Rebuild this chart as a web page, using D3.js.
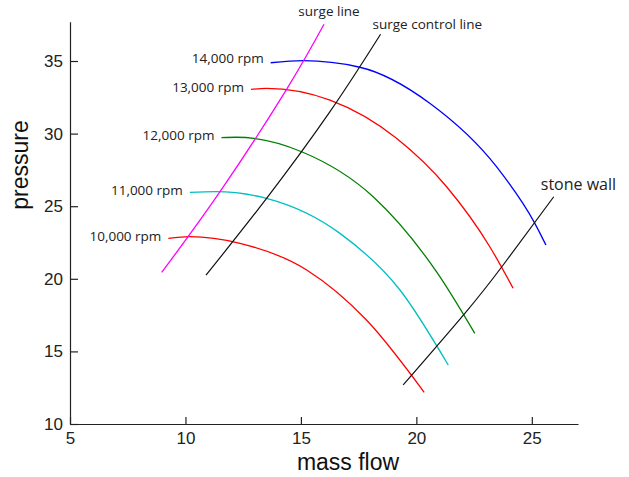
<!DOCTYPE html>
<html>
<head>
<meta charset="utf-8">
<script src="https://cdn.jsdelivr.net/npm/d3@7"></script>
<style>
  body { margin: 0; background: #fff; }
  svg { display: block; }
  .axis text { font-family: "Liberation Sans", Arial, sans-serif; font-size: 17px; fill: #222; }
  .axis path, .axis line { stroke: #222; stroke-width: 1.2; }
  .label { font-family: "Open Sans", sans-serif; font-size: 13.5px; fill: #222; }
  .title { font-family: "Liberation Sans", Arial, sans-serif; font-size: 23px; fill: #111; }
</style>
</head>
<body>
<div id="chart"></div>
<script>
// compressor map: speed lines + surge / control / stone wall limits
const speedLabels = ['10,000 rpm', '11,000 rpm', '12,000 rpm', '13,000 rpm', '14,000 rpm'];
const speedColors = ['#ff0000', '#00bfbf', '#008000', '#ff0000', '#0000ff'];

const flow10k = [9.26, 10.19, 12.36, 15.25, 17.84, 20.34];
const press10k = [22.79, 22.9, 22.44, 20.61, 17.16, 12.18];
const flow11k = [10.19, 11.3, 13.51, 16.69, 19.29, 21.38];
const press11k = [25.95, 26.0, 25.54, 23.13, 19.23, 14.06];
const flow12k = [11.56, 12.2, 15.03, 18.13, 20.87, 22.53];
const press12k = [29.72, 29.75, 28.75, 25.65, 20.49, 16.24];
const flow13k = [12.84, 13.51, 16.26, 19.14, 21.31, 23.18, 24.19];
const press13k = [33.05, 33.12, 32.31, 29.68, 26.34, 22.21, 19.35];
const flow14k = [13.69, 15.09, 17.55, 20.58, 23.47, 25.13, 25.61];
const press14k = [34.88, 35.02, 34.57, 32.09, 27.72, 23.82, 22.33];

const surgeFlow = [8.97, 11.49, 14.38, 16.0];
const surgePress = [20.44, 25.98, 33.05, 37.53];
const controlFlow = [10.89, 13.48, 16.26, 18.45];
const controlPress = [20.25, 25.47, 31.51, 36.84];
const stoneFlow = [19.43, 22.1, 23.76, 25.95];
const stonePress = [12.69, 17.62, 20.95, 25.65];

const xTicks = [5, 10, 15, 20, 25];
const yTicks = [10, 15, 20, 25, 30, 35];

const width = 629, height = 477;

const svg = d3.select('#chart').append('svg')
    .attr('width', width)
    .attr('height', height);

const x = d3.scaleLinear().domain([5, 27]).range([70, 578]);
const y = d3.scaleLinear().domain([10, 37.7]).range([424, 21.8]);

const zip = (xs, ys) => xs.map((v, i) => [v, ys[i]]);
const speedLine = d3.line()
    .x(d => x(d[0]))
    .y(d => y(d[1]))
    .curve(d3.curveMonotoneX);
const limitLine = d3.line()
    .x(d => x(d[0]))
    .y(d => y(d[1]))
    .curve(d3.curveNatural);

// axes, ticks pointing inwards
svg.append('g')
    .attr('class', 'axis')
    .attr('transform', `translate(0,${y.range()[0]})`)
    .call(d3.axisBottom(x).tickValues(xTicks).tickSizeInner(-7).tickSizeOuter(0).tickPadding(8));

svg.append('g')
    .attr('class', 'axis')
    .attr('transform', `translate(${x.range()[0]},0)`)
    .call(d3.axisLeft(y).tickValues(yTicks).tickSizeInner(-8).tickSizeOuter(0).tickPadding(7));

// speed lines
const speeds = [
    zip(flow10k, press10k),
    zip(flow11k, press11k),
    zip(flow12k, press12k),
    zip(flow13k, press13k),
    zip(flow14k, press14k)
];

svg.append('g').selectAll('path')
    .data(speeds)
    .join('path')
    .attr('d', speedLine)
    .attr('fill', 'none')
    .attr('stroke', (d, i) => speedColors[i])
    .attr('stroke-width', 1.3);

svg.append('g').selectAll('text')
    .data(speeds)
    .join('text')
    .attr('class', 'label')
    .attr('x', d => x(d[0][0]) - 7)
    .attr('y', d => y(d[0][1]))
    .attr('dy', (d, i) => i === 4 ? '0.05em' : '0.2em')
    .attr('text-anchor', 'end')
    .text((d, i) => speedLabels[i]);

// limit lines
const surge = zip(surgeFlow, surgePress);
const control = zip(controlFlow, controlPress);
const stone = zip(stoneFlow, stonePress);

svg.append('path')
    .attr('d', limitLine(surge))
    .attr('fill', 'none')
    .attr('stroke', '#ff00ff')
    .attr('stroke-width', 1.3);

[control, stone].forEach(pts => {
    svg.append('path')
        .attr('d', limitLine(pts))
        .attr('fill', 'none')
        .attr('stroke', '#111')
        .attr('stroke-width', 1.2);
});

const surgeTop = surge[surge.length - 1];
svg.append('text')
    .attr('class', 'label')
    .attr('x', x(surgeTop[0]) + 5)
    .attr('y', y(surgeTop[1]) - 8)
    .attr('text-anchor', 'middle')
    .text('surge line');

const controlTop = control[control.length - 1];
svg.append('text')
    .attr('class', 'label')
    .attr('x', x(controlTop[0]) - 8)
    .attr('y', y(controlTop[1]) - 5)
    .text('surge control line');

const stoneTop = stone[stone.length - 1];
svg.append('text')
    .attr('class', 'label')
    .style('font-size', '16px')
    .attr('x', x(stoneTop[0]) - 13)
    .attr('y', y(stoneTop[1]) - 7)
    .text('stone wall');

// axis titles
svg.append('text')
    .attr('class', 'title')
    .attr('x', 348)
    .attr('y', 470)
    .attr('text-anchor', 'middle')
    .text('mass flow');

svg.append('text')
    .attr('class', 'title')
    .attr('transform', 'translate(28,165) rotate(-90)')
    .attr('text-anchor', 'middle')
    .text('pressure');
</script>
</body>
</html>
